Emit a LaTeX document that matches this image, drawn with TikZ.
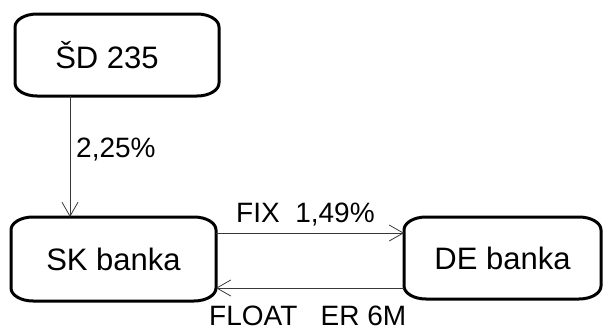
\documentclass[tikz,border=0pt]{standalone}
\usepackage{fontspec}
\setmainfont{Liberation Sans}
\usetikzlibrary{arrows.meta}

% rounded box outline with elliptical corners around a named node
\newcommand\ovalframe[1]{%
  \draw[frame] ([xshift=22pt]#1.north west) -- ([xshift=-22pt]#1.north east)
    arc[start angle=90,end angle=0,x radius=22pt,y radius=13pt]
    -- ([yshift=13pt]#1.south east)
    arc[start angle=0,end angle=-90,x radius=22pt,y radius=13pt]
    -- ([xshift=22pt]#1.south west)
    arc[start angle=-90,end angle=-180,x radius=22pt,y radius=13pt]
    -- ([yshift=-13pt]#1.north west)
    arc[start angle=180,end angle=90,x radius=22pt,y radius=13pt] -- cycle;}

\begin{document}
\begin{tikzpicture}[x=1pt,y=-1pt,
  bank/.style={rectangle,inner sep=0pt,outer sep=0pt,
    font=\fontsize{31}{36}\selectfont},
  frame/.style={line width=3pt,black,line join=round},
  flow/.style={line width=1pt,draw=black!78,
    -{Straight Barb[length=14pt,width=16pt,line width=0.8pt]}},
  rate/.style={anchor=west,inner sep=0pt,font=\fontsize{28}{33}\selectfont}]
\useasboundingbox (0,0) rectangle (606,332);

% boxes
\node[bank,minimum width=204pt,minimum height=82pt] (sd) at (117,55) {ŠD 235\hspace*{20pt}};
\node[bank,minimum width=205pt,minimum height=84pt] (sk) at (113.5,259) {SK banka};
\node[bank,minimum width=197pt,minimum height=82pt] (de) at (502.5,258) {DE banka};
\ovalframe{sd}
\ovalframe{sk}
\ovalframe{de}

% guide coordinates for the connectors
\coordinate (vx) at (70,0);
\coordinate (fixy) at (0,233);
\coordinate (floaty) at (0,288);

% connectors
\draw[flow] (vx |- sd.south) -- (vx |- sk.north);
\draw[flow] (sk.east |- fixy) -- (de.west |- fixy);
\draw[flow] (de.west |- floaty) -- (sk.east |- floaty);

% labels
\node[rate] (r1) at (76,150) {2,25\%};
\node[rate] (r2) at (236,215) {FIX\ \ 1,49\%};
\node[rate] (r3) at (209,316) {FLOAT\ \ \ ER 6M};
\end{tikzpicture}
\end{document}
